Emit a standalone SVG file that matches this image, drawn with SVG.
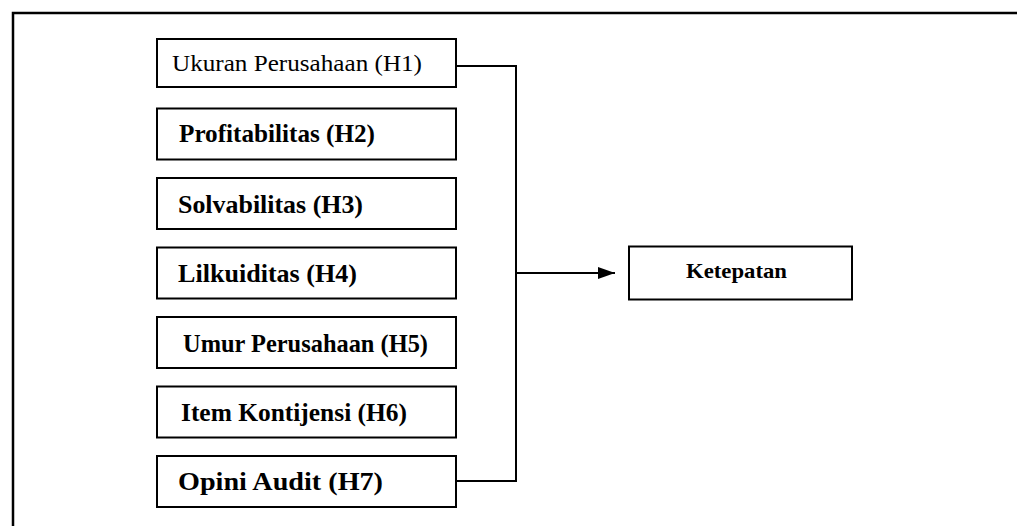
<svg xmlns="http://www.w3.org/2000/svg" width="1017" height="527" viewBox="0 0 1017 527">
<style>
.box{fill:#fff;stroke:#000;stroke-width:2}
.t{font-family:"Liberation Serif","Times New Roman",serif;font-size:25px;font-weight:bold;fill:#000}
.r{font-weight:normal;font-size:23px}
.k{font-size:22px}
.ln{fill:none;stroke:#000;stroke-width:2}
</style>
<defs>
<marker id="ah" markerWidth="18" markerHeight="14" refX="17" refY="7" orient="auto" markerUnits="userSpaceOnUse">
<path d="M0,1 L17,7 L0,13 Z" fill="#000"/>
</marker>
</defs>
<rect width="1017" height="527" fill="#fff"/>
<g id="frame">
<path d="M13,526 V13 H1017" fill="none" stroke="#000" stroke-width="2.5"/>
</g>
<g id="h1"><rect class="box" x="157" y="39" width="299" height="48"/><text class="t r" x="172" y="71" textLength="250" lengthAdjust="spacingAndGlyphs">Ukuran Perusahaan (H1)</text></g>
<g id="h2"><rect class="box" x="157" y="108.5" width="299" height="51"/><text class="t" x="179" y="142" textLength="196" lengthAdjust="spacingAndGlyphs">Profitabilitas (H2)</text></g>
<g id="h3"><rect class="box" x="157" y="178" width="299" height="51"/><text class="t" x="178" y="213" textLength="185" lengthAdjust="spacingAndGlyphs">Solvabilitas (H3)</text></g>
<g id="h4"><rect class="box" x="157" y="247.5" width="299" height="51"/><text class="t" x="178" y="282" textLength="179" lengthAdjust="spacingAndGlyphs">Lilkuiditas (H4)</text></g>
<g id="h5"><rect class="box" x="157" y="317" width="299" height="51"/><text class="t" x="183" y="352" textLength="245" lengthAdjust="spacingAndGlyphs">Umur Perusahaan (H5)</text></g>
<g id="h6"><rect class="box" x="157" y="386.5" width="299" height="51"/><text class="t" x="181" y="421" textLength="226" lengthAdjust="spacingAndGlyphs">Item Kontijensi (H6)</text></g>
<g id="h7"><rect class="box" x="157" y="456" width="299" height="51"/><text class="t" x="178" y="490" textLength="205" lengthAdjust="spacingAndGlyphs">Opini Audit (H7)</text></g>
<g id="ketepatan"><rect class="box" x="629" y="246.5" width="223" height="53"/><text class="t k" x="686" y="278" textLength="101" lengthAdjust="spacingAndGlyphs">Ketepatan</text></g>
<g id="connectors">
<path class="ln" d="M456,66 H516 V481 H456"/>
<path class="ln" d="M516,273 H615" marker-end="url(#ah)"/>
</g>
</svg>
